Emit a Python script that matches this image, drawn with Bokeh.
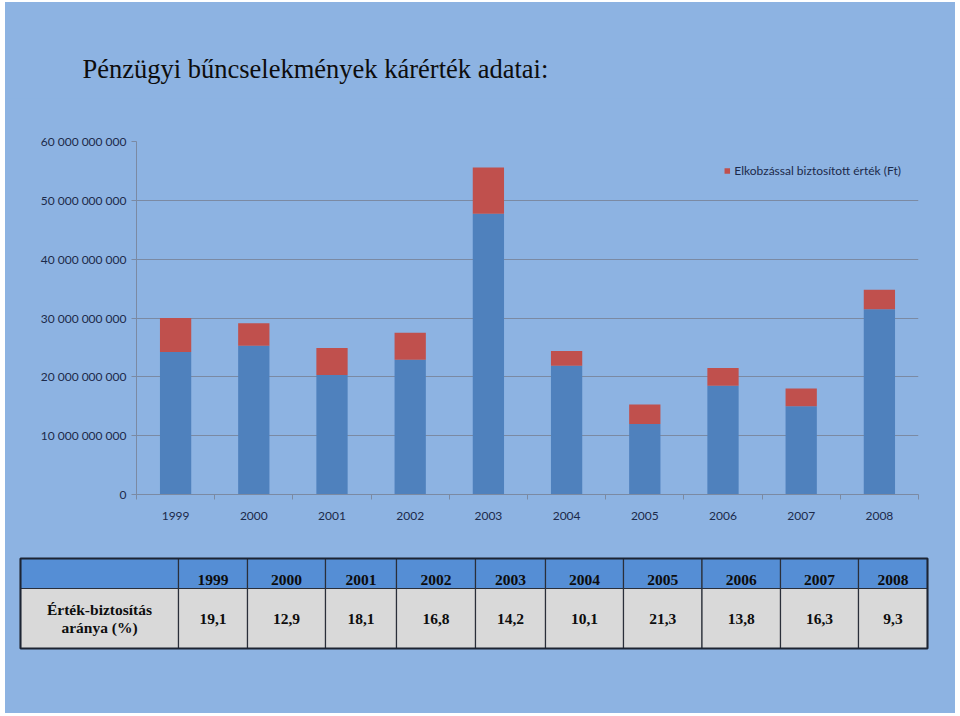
from bokeh.plotting import figure
from bokeh.models import Range1d, FixedTicker, CustomJSTickFormatter, ColumnDataSource, Legend
from bokeh.layouts import column, row
from bokeh.embed import file_html
from bokeh.resources import INLINE
from bokeh.core.properties import value

# ---------------- data ----------------
title_text = "Pénzügyi bűncselekmények kárérték adatai:"
years = ["1999", "2000", "2001", "2002", "2003", "2004", "2005", "2006", "2007", "2008"]
# blue part of each bar (Ft)
nem_biztositott = [24.2e9, 25.3e9, 20.3e9, 22.9e9, 47.7e9, 21.9e9, 12.0e9, 18.5e9, 15.0e9, 31.5e9]
# red part: Elkobzással biztosított érték (Ft)
elkobzas = [5.8e9, 3.8e9, 4.6e9, 4.6e9, 7.9e9, 2.5e9, 3.3e9, 3.0e9, 3.0e9, 3.3e9]
legend_text = "Elkobzással biztosított érték (Ft)"
y_ticks = [0, 10e9, 20e9, 30e9, 40e9, 50e9, 60e9]
row_label = "Érték-biztosítás\naránya (%)"
arany = ["19,1", "12,9", "18,1", "16,8", "14,2", "10,1", "21,3", "13,8", "16,3", "9,3"]

# ---------------- styles ----------------
BG = "#8DB3E2"
BLUE = "#4F81BD"
RED = "#C0504D"
GRID = "#7b8aa3"
LABEL = "#1c2a4a"
SANS = "Lato"
SERIF = "Liberation Serif"
W = 950


def blank_fig(h):
    f = figure(width=W, height=h, x_range=Range1d(0, W), y_range=Range1d(h, 0),
               output_backend="svg", toolbar_location=None, x_axis_type=None, y_axis_type=None,
               min_border=0)
    f.background_fill_color = BG
    f.border_fill_color = BG
    f.outline_line_color = None
    f.grid.visible = False
    return f


# ---------------- title strip ----------------
tf = blank_fig(96)
tf.text(x=[77], y=[66], text=[title_text], text_align="left", text_baseline="middle",
        text_font=value(SERIF), text_font_size="26.5px", text_color="#0d0d0d")

# ---------------- chart ----------------
n = len(years)
xc = [i + 0.5 for i in range(n)]
tops = [a + b for a, b in zip(nem_biztositott, elkobzas)]

src = ColumnDataSource(dict(x=xc, year=years, blue=nem_biztositott,
                            red_bottom=nem_biztositott, red_top=tops))

p = figure(width=W, height=450, x_range=Range1d(0, n), y_range=Range1d(0, y_ticks[-1]),
           output_backend="svg", toolbar_location=None,
           min_border_left=131, min_border_right=37, min_border_top=43, min_border_bottom=54)
p.background_fill_color = BG
p.border_fill_color = BG
p.outline_line_color = None

p.vbar(x="x", width=0.4, bottom=0, top="blue", source=src, fill_color=BLUE, line_color=None)
r_red = p.vbar(x="x", width=0.4, bottom="red_bottom", top="red_top", source=src,
               fill_color=RED, line_color=None)

legend = Legend(items=[(legend_text, [r_red])], location="top_right")
legend.background_fill_alpha = 0
legend.border_line_color = None
legend.margin = 17
legend.padding = 9
legend.glyph_width = 7
legend.glyph_height = 7
legend.label_height = 24
legend.label_standoff = 4
legend.label_text_font = SANS
legend.label_text_font_size = "12px"
legend.label_text_color = LABEL
p.add_layout(legend)

# y axis
yax = p.yaxis[0]
yax.ticker = FixedTicker(ticks=y_ticks)
yax.formatter = CustomJSTickFormatter(code='return tick.toFixed(0).replace(/\\B(?=(\\d{3})+(?!\\d))/g, " ");')
yax.axis_line_color = GRID
yax.major_tick_line_color = GRID
yax.major_tick_out = 5
yax.major_tick_in = 0
yax.minor_tick_line_color = None
yax.major_label_standoff = 5
yax.major_label_text_font = SANS
yax.major_label_text_font_size = "12px"
yax.major_label_text_color = LABEL

# x axis
xax = p.xaxis[0]
xax.ticker = FixedTicker(ticks=xc, minor_ticks=list(range(n + 1)))
xax.formatter = CustomJSTickFormatter(args=dict(years=years), code="return years[Math.floor(tick)];")
xax.axis_line_color = GRID
xax.major_tick_line_color = None
xax.major_tick_out = 0
xax.major_tick_in = 0
xax.minor_tick_line_color = GRID
xax.minor_tick_out = 5
xax.minor_tick_in = 0
xax.major_label_standoff = 12
xax.major_label_text_font = SANS
xax.major_label_text_font_size = "12px"
xax.major_label_text_color = LABEL

p.xgrid.visible = False
p.ygrid.ticker = FixedTicker(ticks=y_ticks)
p.ygrid.grid_line_color = GRID
p.ygrid.grid_line_width = 1.2

# ---------------- table ----------------
col_edges = [15, 173, 242, 320, 391, 470, 540, 618, 696.5, 775, 853, 922]  # layout (px)
t = blank_fig(165)

H_TOP, H_BOT, B_BOT = 10, 40, 100
cells = ColumnDataSource(dict(left=col_edges[:-1], right=col_edges[1:]))
t.quad(left="left", right="right", top=H_TOP, bottom=H_BOT, source=cells,
       fill_color="#558ED5", line_color="#2a2f3a", line_width=1.2)
t.quad(left="left", right="right", top=H_BOT, bottom=B_BOT, source=cells,
       fill_color="#D9D9D9", line_color="#2a2f3a", line_width=1.2)
t.quad(left=col_edges[0], right=col_edges[-1], top=H_TOP, bottom=B_BOT,
       fill_color=None, line_color="#1c2433", line_width=2)

col_centers = [(a + b) / 2 for a, b in zip(col_edges[:-1], col_edges[1:])]
tsrc = ColumnDataSource(dict(x=col_centers[1:], year=years, val=arany))
t.text(x="x", y=31, text="year", source=tsrc, text_align="center", text_baseline="alphabetic",
       text_font=value(SERIF), text_font_style="bold", text_font_size="15.5px", text_color="#0d0d0d")
t.text(x="x", y=70, text="val", source=tsrc, text_align="center", text_baseline="alphabetic",
       text_font=value(SERIF), text_font_style="bold", text_font_size="15.5px", text_color="#0d0d0d")
t.text(x=[col_centers[0]], y=[70], text=[row_label], text_align="center", text_baseline="middle",
       text_line_height=1.1,
       text_font=value(SERIF), text_font_style="bold", text_font_size="15.5px", text_color="#0d0d0d")

layout = column(row(tf, styles={"background-color": BG}), p,
                row(t, styles={"background-color": BG}),
                spacing=0, margin=(2, 0, 0, 5), styles={"background-color": BG})
open("out.html", "w").write(file_html(layout, INLINE))
